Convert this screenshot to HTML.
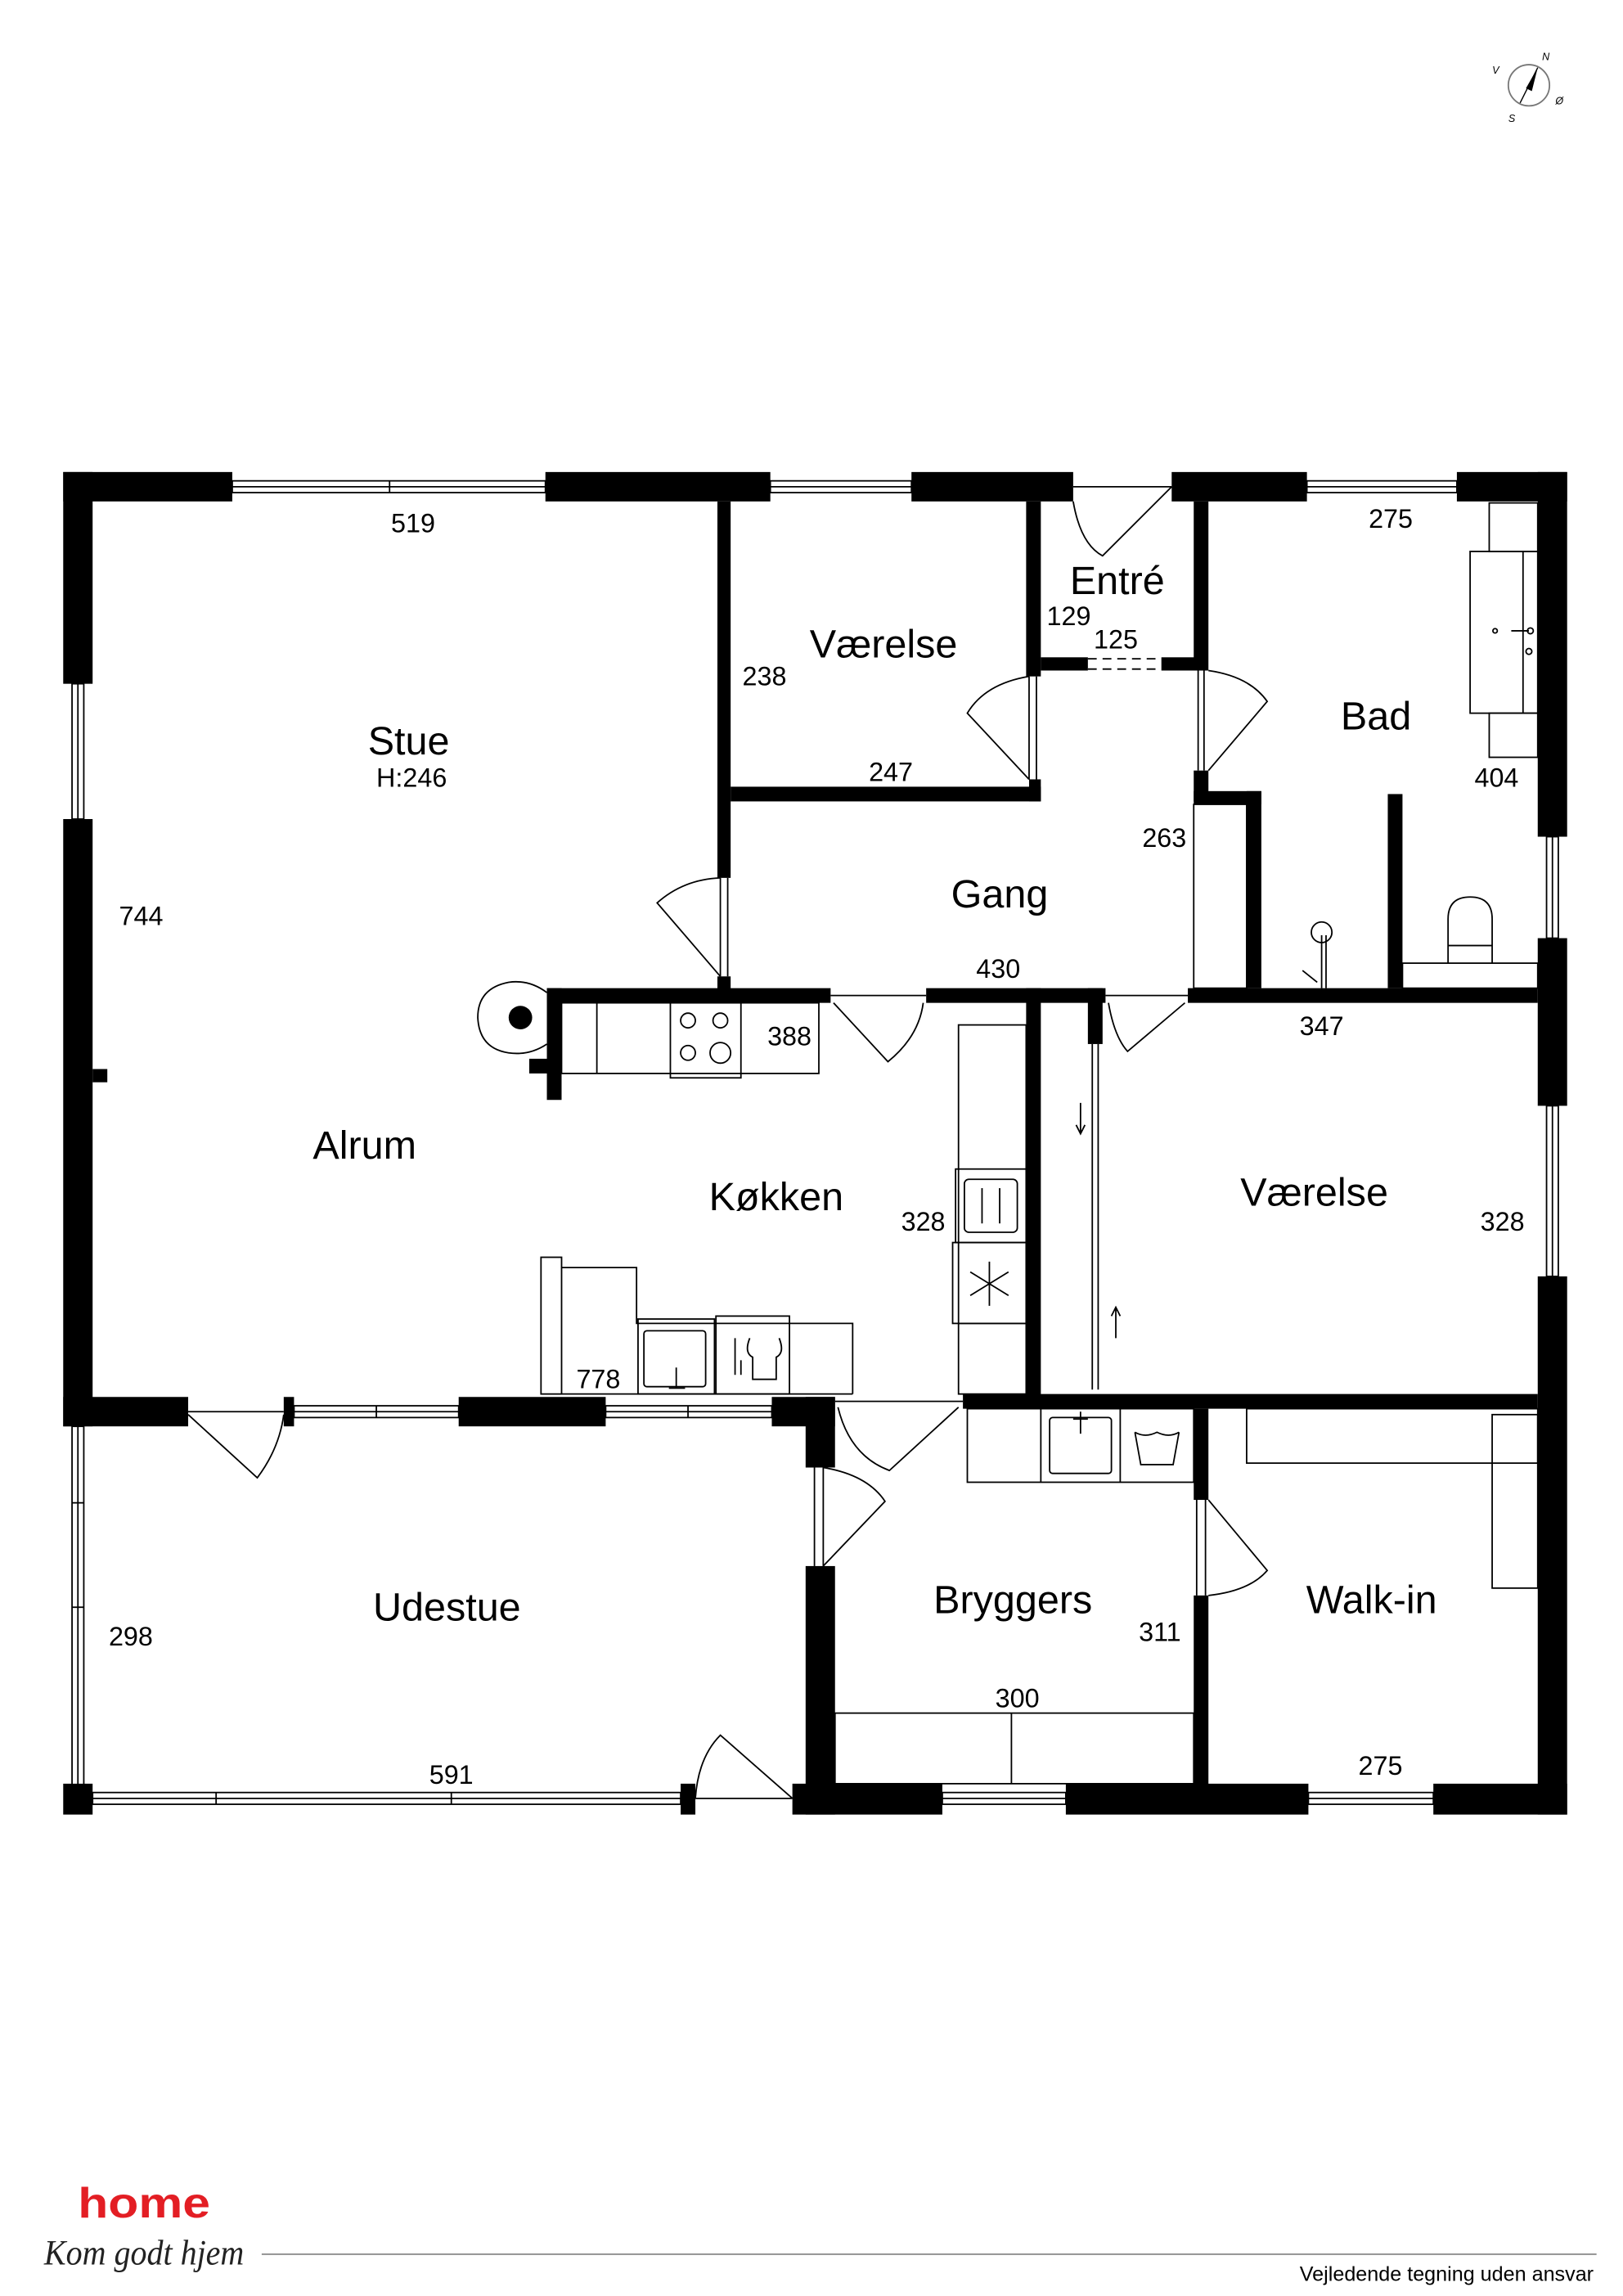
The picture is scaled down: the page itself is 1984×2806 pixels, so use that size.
<!DOCTYPE html>
<html><head><meta charset="utf-8">
<style>
html,body{margin:0;padding:0;background:#fff;}
svg{display:block;}
text{font-family:"Liberation Sans",sans-serif;fill:#000;}
.r{font-size:27px;text-anchor:middle;}
.n{font-size:18px;text-anchor:middle;}
.w{fill:#000;}
.t{fill:none;stroke:#000;stroke-width:1;}
.g{fill:none;stroke:#777;stroke-width:1;}
</style></head><body>
<svg width="1984" height="2806" viewBox="0 0 1104 1561.4" xmlns="http://www.w3.org/2000/svg">
<rect x="0" y="0" width="1104" height="1561.4" fill="#fff"/>

<!-- compass -->
<g transform="translate(1040,58)">
<circle r="14" class="g"/>
<polygon points="6,-12 -2,2 2,4" fill="#000"/>
<line x1="-6" y1="12" x2="6" y2="-12" stroke="#000" stroke-width="0.8"/>
<text x="9" y="-17" style="font-size:7px;font-style:italic">N</text>
<text x="-25" y="-8" style="font-size:7px;font-style:italic">V</text>
<text x="18" y="13" style="font-size:7px;font-style:italic">Ø</text>
<text x="-14" y="25" style="font-size:7px;font-style:italic">S</text>
</g>

<!-- ===== OUTER WALLS ===== -->
<rect class="w" x="43" y="321" width="115" height="20"/>
<rect class="w" x="371" y="321" width="153" height="20"/>
<rect class="w" x="620" y="321" width="110" height="20"/>
<rect class="w" x="797" y="321" width="92" height="20"/>
<rect class="w" x="991" y="321" width="75" height="20"/>
<g class="t">
<rect x="158" y="327" width="213" height="8"/><line x1="158" y1="331" x2="371" y2="331"/>
<line x1="265" y1="327" x2="265" y2="335"/>
<rect x="524" y="327" width="96" height="8"/><line x1="524" y1="331" x2="620" y2="331"/>
<rect x="889" y="327" width="102" height="8"/><line x1="889" y1="331" x2="991" y2="331"/>
<line x1="730" y1="331" x2="797" y2="331"/>
</g>
<path class="t" d="M730,341 Q735,370 750,378 L797,331"/>

<rect class="w" x="43" y="321" width="20" height="144"/>
<rect class="w" x="43" y="557" width="20" height="413"/>
<rect class="w" x="63" y="727" width="10" height="9"/>
<g class="t">
<rect x="49" y="465" width="8" height="92"/><line x1="53" y1="465" x2="53" y2="557"/>
<rect x="49" y="970" width="8" height="244"/><line x1="53" y1="970" x2="53" y2="1214"/>
<line x1="49" y1="1093" x2="57" y2="1093"/><line x1="49" y1="1022" x2="57" y2="1022"/>
</g>

<rect class="w" x="1046" y="321" width="20" height="248"/>
<rect class="w" x="1046" y="638" width="20" height="114"/>
<rect class="w" x="1046" y="868" width="20" height="366"/>
<g class="t">
<rect x="1052" y="569" width="8" height="69"/><line x1="1056" y1="569" x2="1056" y2="638"/>
<rect x="1052" y="752" width="8" height="116"/><line x1="1056" y1="752" x2="1056" y2="868"/>
</g>

<rect class="w" x="43" y="1213" width="20" height="21"/>
<rect class="w" x="463" y="1213" width="10" height="21"/>
<rect class="w" x="539" y="1213" width="102" height="21"/>
<rect class="w" x="725" y="1213" width="165" height="21"/>
<rect class="w" x="975" y="1213" width="91" height="21"/>
<g class="t">
<rect x="63" y="1219" width="400" height="8"/><line x1="63" y1="1223" x2="463" y2="1223"/>
<line x1="147" y1="1219" x2="147" y2="1227"/><line x1="307" y1="1219" x2="307" y2="1227"/>
<rect x="641" y="1219" width="84" height="8"/><line x1="641" y1="1223" x2="725" y2="1223"/>
<rect x="890" y="1219" width="85" height="8"/><line x1="890" y1="1223" x2="975" y2="1223"/>
<line x1="473" y1="1223" x2="539" y2="1223"/>
</g>
<path class="t" d="M473,1223 Q475,1195 490,1180 L539,1223"/>

<!-- Alrum / Udestue wall -->
<rect class="w" x="43" y="950" width="85" height="20"/>
<rect class="w" x="193" y="950" width="7" height="20"/>
<rect class="w" x="312" y="950" width="100" height="20"/>
<rect class="w" x="525" y="950" width="43" height="20"/>
<rect class="w" x="548" y="950" width="20" height="48"/>
<g class="t">
<rect x="200" y="956" width="112" height="8"/><line x1="200" y1="960" x2="312" y2="960"/>
<line x1="256" y1="956" x2="256" y2="964"/>
<rect x="412" y="956" width="113" height="8"/><line x1="412" y1="960" x2="525" y2="960"/>
<line x1="468" y1="956" x2="468" y2="964"/>
<line x1="128" y1="960" x2="193" y2="960"/>
</g>
<path class="t" d="M128,962 L175,1005 Q190,985 193,962"/>

<rect class="w" x="548" y="1065" width="20" height="169"/>
<g class="t"><line x1="554" y1="998" x2="554" y2="1065"/><line x1="560" y1="998" x2="560" y2="1065"/></g>
<path class="t" d="M560,1065 L602,1021 Q590,1003 560,998"/>

<line class="t" x1="568" y1="953" x2="655" y2="953"/>
<path class="t" d="M570,957 Q578,990 605,1000 L652,957"/>

<rect class="w" x="655" y="948" width="391" height="10"/>

<rect class="w" x="812" y="958" width="10" height="62"/>
<rect class="w" x="812" y="1085" width="10" height="129"/>
<g class="t"><line x1="814" y1="1020" x2="814" y2="1085"/><line x1="820" y1="1020" x2="820" y2="1085"/></g>
<path class="t" d="M822,1020 L862,1068 Q850,1082 822,1085"/>

<g class="t">
<rect x="568" y="1165" width="244" height="48"/><line x1="688" y1="1165" x2="688" y2="1213"/>
<rect x="658" y="958" width="154" height="50"/>
<line x1="708" y1="958" x2="708" y2="1008"/><line x1="762" y1="958" x2="762" y2="1008"/>
<rect x="714" y="964" width="42" height="38" rx="2"/>
<line x1="735" y1="960" x2="735" y2="975"/><line x1="730" y1="965" x2="740" y2="965"/>
<path d="M772,974 L776,996 L798,996 L802,974 M772,974 Q779,978 787,974 Q795,978 802,974"/>
</g>
<g class="t">
<rect x="848" y="958" width="198" height="37"/>
<rect x="1015" y="962" width="31" height="118"/>
</g>

<!-- Kitchen / Værelse -->
<rect class="w" x="698" y="672" width="10" height="278"/>
<rect class="w" x="740" y="672" width="10" height="38"/>
<g class="t">
<line x1="743" y1="710" x2="743" y2="945"/><line x1="747" y1="710" x2="747" y2="945"/>
<path d="M735,750 L735,770 M732,765 L735,771 L738,765"/>
<path d="M759,910 L759,890 M756,895 L759,889 L762,895"/>
</g>

<rect class="w" x="372" y="672" width="193" height="10"/>
<rect class="w" x="630" y="672" width="122" height="10"/>
<rect class="w" x="808" y="672" width="238" height="10"/>
<line class="t" x1="565" y1="677" x2="630" y2="677"/>
<path class="t" d="M567,682 L604,722 Q625,705 628,682"/>
<line class="t" x1="752" y1="677" x2="808" y2="677"/>
<path class="t" d="M754,682 Q758,705 767,715 L806,682"/>
<rect class="w" x="372" y="672" width="10" height="76"/>
<rect class="w" x="360" y="720" width="22" height="10"/>
<path class="t" d="M372,675 Q360,666 346,668 Q325,672 325,692 Q326,713 346,716 Q360,718 372,710"/>
<circle cx="354" cy="692" r="8" fill="#000"/>
<g class="t">
<rect x="382" y="682" width="175" height="48"/>
<line x1="406" y1="682" x2="406" y2="730"/>
<rect x="456" y="682" width="48" height="51"/>
<circle cx="468" cy="694" r="5"/><circle cx="490" cy="694" r="5"/>
<circle cx="468" cy="716" r="5"/><circle cx="490" cy="716" r="7"/>
<rect x="652" y="697" width="46" height="251"/>
<rect x="650" y="795" width="48" height="50"/>
<rect x="656" y="802" width="36" height="36" rx="3"/>
<line x1="668" y1="808" x2="668" y2="832"/><line x1="680" y1="808" x2="680" y2="832"/>
<rect x="648" y="845" width="50" height="55"/>
<path d="M673,858 L673,888 M660,865 L686,881 M660,881 L686,865"/>
<line x1="652" y1="900" x2="698" y2="900"/>
<rect x="368" y="855" width="14" height="93"/>
<path d="M382,862 L433,862 L433,900 L580,900 L580,948"/>
<rect x="434" y="897" width="52" height="51"/>
<rect x="438" y="905" width="42" height="38" rx="2"/>
<line x1="460" y1="930" x2="460" y2="944"/><line x1="455" y1="944" x2="466" y2="944"/>
<rect x="487" y="895" width="50" height="53"/>
<path d="M500,910 L500,935 M504,925 L504,935 M510,910 Q506,920 512,923 L512,938 L528,938 L528,923 Q534,920 530,910"/>
<line x1="382" y1="948" x2="580" y2="948"/>
</g>

<!-- Stue / Værelse / Gang -->
<rect class="w" x="488" y="341" width="9" height="256"/>
<rect class="w" x="488" y="664" width="9" height="16"/>
<g class="t"><line x1="490" y1="597" x2="490" y2="664"/><line x1="495" y1="597" x2="495" y2="664"/></g>
<path class="t" d="M490,664 L447,614 Q465,598 490,597"/>

<rect class="w" x="497" y="535" width="211" height="10"/>
<rect class="w" x="698" y="341" width="10" height="119"/>
<rect class="w" x="700" y="530" width="8" height="15"/>
<g class="t"><line x1="700" y1="460" x2="700" y2="530"/><line x1="705" y1="460" x2="705" y2="530"/></g>
<path class="t" d="M700,530 L658,485 Q670,465 700,460"/>

<rect class="w" x="708" y="447" width="32" height="9"/>
<rect class="w" x="790" y="447" width="30" height="9"/>
<g class="t" stroke-dasharray="6,4"><line x1="740" y1="448" x2="790" y2="448"/><line x1="740" y1="455" x2="790" y2="455"/></g>

<rect class="w" x="812" y="341" width="10" height="115"/>
<rect class="w" x="812" y="524" width="10" height="21"/>
<rect class="w" x="812" y="538" width="46" height="9"/>
<rect class="w" x="848" y="538" width="10" height="134"/>
<g class="t"><line x1="815" y1="456" x2="815" y2="524"/><line x1="819" y1="456" x2="819" y2="524"/></g>
<path class="t" d="M822,524 L862,477 Q850,460 822,456"/>
<rect class="t" x="812" y="547" width="36" height="125"/>

<rect class="w" x="944" y="540" width="10" height="132"/>
<g class="t">
<rect x="1013" y="342" width="33" height="33"/>
<rect x="1000" y="375" width="46" height="110"/>
<line x1="1036" y1="375" x2="1036" y2="485"/>
<circle cx="1017" cy="429" r="1.5"/><line x1="1028" y1="429" x2="1040" y2="429"/><circle cx="1041" cy="429" r="2"/>
<circle cx="1040" cy="443" r="2"/>
<rect x="1013" y="485" width="33" height="30"/>
<path d="M985,655 L985,625 Q985,610 1000,610 Q1015,610 1015,625 L1015,655"/>
<line x1="985" y1="643" x2="1015" y2="643"/>
<rect x="954" y="655" width="92" height="17"/>
<circle cx="899" cy="634" r="7"/>
<line x1="899" y1="636" x2="899" y2="672"/><line x1="902" y1="636" x2="902" y2="672"/>
<path d="M886,660 L896,668"/>
</g>

<!-- Labels -->
<text class="n" x="281" y="362">519</text>
<text class="r" x="278" y="513">Stue</text>
<text class="n" x="280" y="535">H:246</text>
<text class="r" x="601" y="447">Værelse</text>
<text class="n" x="520" y="466">238</text>
<text class="n" x="606" y="531">247</text>
<text class="r" x="760" y="404">Entré</text>
<text class="n" x="727" y="425">129</text>
<text class="n" x="759" y="441">125</text>
<text class="r" x="936" y="496">Bad</text>
<text class="n" x="946" y="359">275</text>
<text class="n" x="1018" y="535">404</text>
<text class="n" x="792" y="576">263</text>
<text class="r" x="680" y="617">Gang</text>
<text class="n" x="679" y="665">430</text>
<text class="n" x="899" y="704">347</text>
<text class="n" x="96" y="629">744</text>
<text class="n" x="537" y="711">388</text>
<text class="r" x="248" y="788">Alrum</text>
<text class="r" x="528" y="823">Køkken</text>
<text class="n" x="628" y="837">328</text>
<text class="r" x="894" y="820">Værelse</text>
<text class="n" x="1022" y="837">328</text>
<text class="n" x="407" y="944">778</text>
<text class="r" x="304" y="1102">Udestue</text>
<text class="n" x="89" y="1119">298</text>
<text class="n" x="307" y="1213">591</text>
<text class="r" x="689" y="1097">Bryggers</text>
<text class="n" x="789" y="1116">311</text>
<text class="n" x="692" y="1161">300</text>
<text class="r" x="933" y="1097">Walk-in</text>
<text class="n" x="939" y="1207">275</text>

<!-- Footer -->
<text x="53" y="1508" textLength="90" lengthAdjust="spacingAndGlyphs" style="font-size:29px;font-weight:bold;fill:#e31e24">home</text>
<text x="30" y="1540" textLength="136" lengthAdjust="spacingAndGlyphs" style="font-family:'Liberation Serif',serif;font-style:italic;font-size:24px;fill:#222">Kom godt hjem</text>
<line x1="178" y1="1533" x2="1086" y2="1533" stroke="#999" stroke-width="1.2"/>
<text x="1084" y="1551" style="font-size:14px;text-anchor:end">Vejledende tegning uden ansvar</text>
</svg>
</body></html>
